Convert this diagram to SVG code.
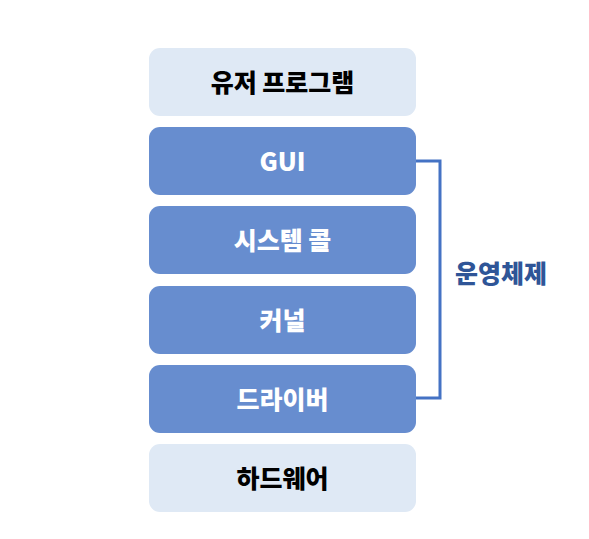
<svg xmlns="http://www.w3.org/2000/svg" width="589" height="539" viewBox="0 0 589 539">
<style>
.box{stroke:none}
.light{fill:#DFE9F5}
.dark{fill:#678DCF}
.t{font-family:"Noto Sans CJK KR","Noto Sans",sans-serif;font-weight:900;font-size:25px;text-anchor:middle;dominant-baseline:central}
.tl{fill:#000000}
.td{fill:#FFFFFF}
.os{font-family:"Noto Sans CJK KR","Noto Sans",sans-serif;font-weight:900;font-size:25px;fill:#2F5597;text-anchor:middle;dominant-baseline:central}
</style>
<rect width="589" height="539" fill="#FFFFFF"/>
<g id="user-program"><rect class="box light" x="149" y="48" width="267" height="68" rx="11"/><text class="t tl" x="282.5" y="81">유저 프로그램</text></g>
<g id="gui"><rect class="box dark" x="149" y="127" width="267" height="68" rx="11"/><text class="t td" x="282.5" y="160">GUI</text></g>
<g id="syscall"><rect class="box dark" x="149" y="206" width="267" height="68" rx="11"/><text class="t td" x="282.5" y="239">시스템 콜</text></g>
<g id="kernel"><rect class="box dark" x="149" y="286" width="267" height="68" rx="11"/><text class="t td" x="282.5" y="319">커널</text></g>
<g id="driver"><rect class="box dark" x="149" y="365" width="267" height="68" rx="11"/><text class="t td" x="282.5" y="398">드라이버</text></g>
<g id="hardware"><rect class="box light" x="149" y="444" width="267" height="68" rx="11"/><text class="t tl" x="282.5" y="477">하드웨어</text></g>
<g id="connectors"><polyline points="416,161 440,161 440,398 416,398" fill="none" stroke="#4472C4" stroke-width="3"/></g>
<g id="os-label"><text class="os" x="501" y="272">운영체제</text></g>
</svg>
